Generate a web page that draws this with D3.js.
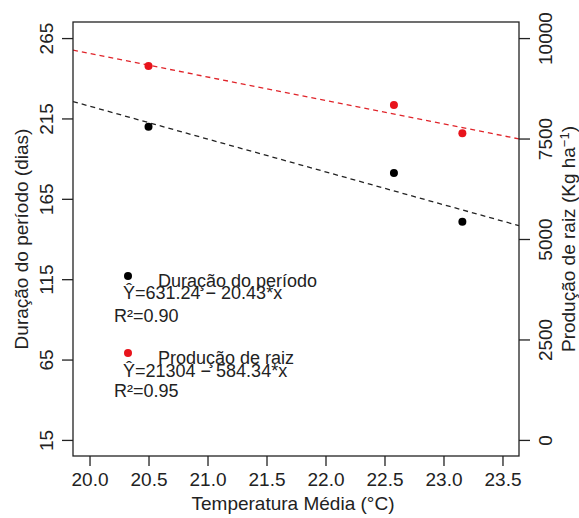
<!DOCTYPE html>
<html>
<head>
<meta charset="utf-8">
<script src="https://cdn.jsdelivr.net/npm/d3@7"></script>
<style>
  html, body { margin: 0; padding: 0; background: #fff; }
  svg { display: block; }
  text { font-family: "Liberation Sans", Arial, sans-serif; fill: #222; }
</style>
</head>
<body>
<svg id="chart" width="579" height="518"></svg>
<script>
// Mean temperature (°C) of each site
const temps = [20.5, 22.58, 23.16];
// Length of the growing period (days)
const duration = [209.9, 181.0, 150.8];
// Root yield (Kg ha-1)
const production = [9305, 8335, 7630];

// Fitted regressions: Y = a + b*x
const durationFit = { a: 631.24, b: -20.43, r2: "0.90" };
const productionFit = { a: 21304, b: -584.34, r2: "0.95" };

const xTicks = [20.0, 20.5, 21.0, 21.5, 22.0, 22.5, 23.0, 23.5];
const leftTicks = [15, 65, 115, 165, 215, 265];
const rightTicks = [0, 2500, 5000, 7500, 10000];

const svg = d3.select("#chart");
const box = { left: 73, right: 519, top: 22, bottom: 456 };
const fontSize = 19;
const legendSize = 18;
const ink = "#222";
const redPt = "#e8141c";
const redLine = "#e0242a";

const x = d3.scaleLinear().domain([19.86, 23.64]).range([box.left, box.right]);
const yL = d3.scaleLinear().domain([5, 275]).range([box.bottom, box.top]);
const yR = d3.scaleLinear().domain([-400, 10400]).range([box.bottom, box.top]);

// clip for the regression lines
svg.append("defs").append("clipPath").attr("id", "plotClip")
  .append("rect")
  .attr("x", box.left).attr("y", box.top)
  .attr("width", box.right - box.left).attr("height", box.bottom - box.top);

// regression lines across the whole plotting region
function fitLine(fit, yScale, color) {
  const xs = x.domain();
  svg.append("line")
    .attr("clip-path", "url(#plotClip)")
    .attr("x1", x(xs[0])).attr("y1", yScale(fit.a + fit.b * xs[0]))
    .attr("x2", x(xs[1])).attr("y2", yScale(fit.a + fit.b * xs[1]))
    .attr("stroke", color).attr("stroke-width", 1.3)
    .attr("stroke-dasharray", "5,4");
}
fitLine(productionFit, yR, redLine);
fitLine(durationFit, yL, "#222");

// observed points
svg.append("g").selectAll("circle").data(temps).join("circle")
  .attr("cx", d => x(d)).attr("cy", (d, i) => yL(duration[i]))
  .attr("r", 4).attr("fill", "#000");
svg.append("g").selectAll("circle").data(temps).join("circle")
  .attr("cx", d => x(d)).attr("cy", (d, i) => yR(production[i]))
  .attr("r", 4).attr("fill", redPt);

// frame
svg.append("rect")
  .attr("x", box.left).attr("y", box.top)
  .attr("width", box.right - box.left).attr("height", box.bottom - box.top)
  .attr("fill", "none").attr("stroke", ink).attr("stroke-width", 1.3);

// bottom axis
const gx = svg.append("g").attr("transform", `translate(0,${box.bottom})`)
  .call(d3.axisBottom(x).tickValues(xTicks).tickFormat(d3.format(".1f")).tickSize(10).tickPadding(7));
gx.select(".domain").remove();
gx.selectAll("line").attr("stroke", ink).attr("stroke-width", 1.3);
gx.selectAll("text").attr("font-size", fontSize).attr("fill", ink)
  .attr("font-family", "Liberation Sans, Arial, sans-serif");

// left axis, labels parallel to the axis
const gl = svg.append("g").attr("transform", `translate(${box.left},0)`)
  .call(d3.axisLeft(yL).tickValues(leftTicks).tickSize(11).tickFormat(d3.format("d")));
gl.select(".domain").remove();
gl.selectAll("line").attr("stroke", ink).attr("stroke-width", 1.3);
gl.selectAll("text")
  .attr("font-size", fontSize).attr("fill", ink)
  .attr("font-family", "Liberation Sans, Arial, sans-serif")
  .attr("x", null).attr("dy", null)
  .attr("text-anchor", "middle")
  .attr("transform", `translate(${53 - box.left},0) rotate(-90)`);

// right axis, labels parallel to the axis
const gr = svg.append("g").attr("transform", `translate(${box.right},0)`)
  .call(d3.axisRight(yR).tickValues(rightTicks).tickSize(11).tickFormat(d3.format("d")));
gr.select(".domain").remove();
gr.selectAll("line").attr("stroke", ink).attr("stroke-width", 1.3);
gr.selectAll("text")
  .attr("font-size", fontSize).attr("fill", ink)
  .attr("font-family", "Liberation Sans, Arial, sans-serif")
  .attr("x", null).attr("dy", null)
  .attr("text-anchor", "middle")
  .attr("transform", `translate(${552 - box.right},0) rotate(-90)`);

// axis titles
const midY = (box.top + box.bottom) / 2;
svg.append("text")
  .attr("x", 293).attr("y", 510)
  .attr("text-anchor", "middle").attr("font-size", fontSize)
  .text("Temperatura Média (°C)");
svg.append("text")
  .attr("transform", `translate(28,${midY}) rotate(-90)`)
  .attr("text-anchor", "middle").attr("font-size", fontSize)
  .text("Duração do período (dias)");
const rt = svg.append("text")
  .attr("transform", `translate(575,${midY}) rotate(-90)`)
  .attr("text-anchor", "middle").attr("font-size", fontSize);
rt.append("tspan").text("Produção de raiz (Kg ha");
rt.append("tspan").attr("font-size", 13).attr("baseline-shift", "45%").text("−1");
rt.append("tspan").text(")");

// legend blocks with the fitted equations
function legendBlock(cfg) {
  svg.append("circle").attr("cx", 128).attr("cy", cfg.dotY).attr("r", 4).attr("fill", cfg.color);
  svg.append("text").attr("x", 158).attr("y", cfg.dotY + 11).attr("font-size", legendSize).text(cfg.name);
  svg.append("text").attr("x", 123).attr("y", cfg.eqY).attr("font-size", legendSize)
    .text(`Ŷ=${cfg.fit.a} − ${Math.abs(cfg.fit.b)}*x`);
  svg.append("text").attr("x", 114).attr("y", cfg.r2Y).attr("font-size", legendSize)
    .text(`R²=${cfg.fit.r2}`);
}
legendBlock({ dotY: 276, eqY: 299, r2Y: 322, color: "#000", name: "Duração do período", fit: durationFit });
legendBlock({ dotY: 353, eqY: 377, r2Y: 397, color: redPt, name: "Produção de raiz", fit: productionFit });
</script>
</body>
</html>
